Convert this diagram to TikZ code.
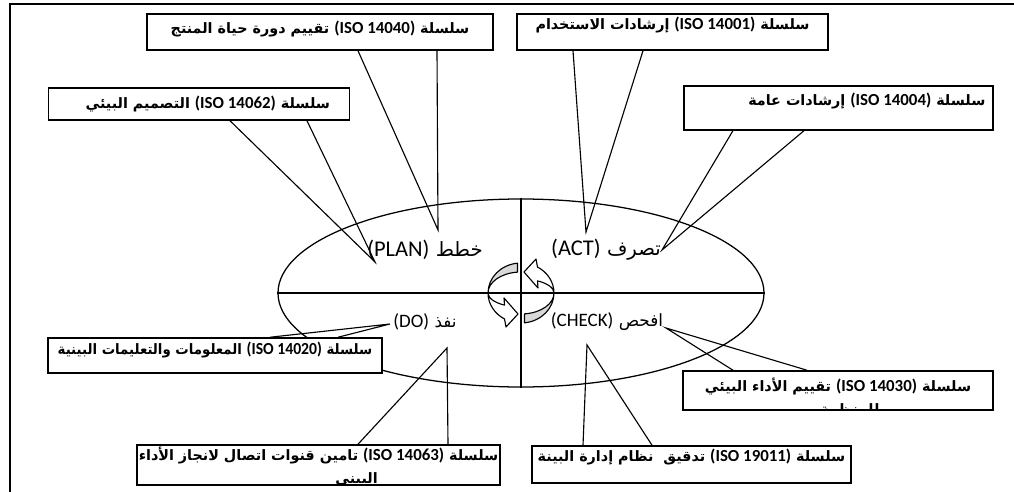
\documentclass[tikz,border=0pt]{standalone}
\usepackage{fontspec}
\newfontfamily\arabicfont[Script=Arabic]{DejaVu Sans}
\newfontfamily\latinfont{Carlito}
\TeXXeTstate=1
\usetikzlibrary{shapes.geometric,positioning,calc}

\newcommand{\iso}[1]{\beginL{\latinfont\bfseries\fontsize{12}{12}\selectfont(ISO #1)}\endL{}}

\begin{document}
\begin{tikzpicture}[
    box/.style={draw, rectangle, line width=1.1pt, fill=white, inner sep=0pt},
    boxtxt/.style={font=\arabicfont\bfseries\fontsize{10.2}{12}\selectfont, inner sep=0pt},
    phase/.style={font=\arabicfont\fontsize{14}{16}\selectfont, inner sep=0pt},
    subphase/.style={font=\arabicfont\fontsize{12}{14}\selectfont, inner sep=0pt},
    call/.style={line width=0.8pt},
    turn/.style={draw, line width=0.8pt, line join=round}
]
    \useasboundingbox (0,0) rectangle (25.35,-12.3);
    % page frame
    \draw[line width=1.4pt] (0.25,-12.3) -- (0.25,-0.1) -- (25.35,-0.1);

    % PDCA ellipse
    \node[draw, ellipse, line width=0.9pt, minimum width=12.15cm, minimum height=4.7cm, inner sep=0pt] (cyc) at (13.025,-7.325) {};
    \draw[line width=0.9pt] (cyc.west) -- (cyc.east);
    \draw[line width=0.9pt] (cyc.north) -- (cyc.south);

    % series boxes
    \node[box, minimum width=8.65cm, minimum height=0.9cm] (b1) at (8.0,-0.8) {};
    \node[box, minimum width=7.775cm, minimum height=0.9cm] (b2) at (16.8125,-0.8) {};
    \node[box, minimum width=7.525cm, minimum height=0.8cm] (b3) at (4.975,-2.6) {};
    \node[box, minimum width=7.725cm, minimum height=1.1cm] (b4) at (20.96,-2.7) {};
    \node[box, minimum width=8.35cm, minimum height=0.875cm] (b5) at (5.375,-8.8875) {};
    \node[box, minimum width=9.075cm, minimum height=1.0cm] (b6) at (7.9625,-11.625) {};
    \node[box, minimum width=7.75cm, minimum height=0.975cm] (b7) at (20.95,-9.7625) {};
    \node[box, minimum width=7.975cm, minimum height=0.925cm] (b8) at (17.2875,-11.6125) {};

    % callout tips
    \coordinate (p1) at (10.95,-5.75);
    \coordinate (p2) at (14.65,-5.8);
    \coordinate (p3) at (9.375,-6.55);
    \coordinate (p4) at (16.55,-6.25);
    \coordinate (p5) at (9.75,-8.1);
    \coordinate (p6) at (11.175,-8.7);
    \coordinate (p7) at (16.65,-8.2);
    \coordinate (p8) at (14.675,-8.625);

    \draw[call] ([xshift=0.95cm]b1.south) -- (p1) -- ([xshift=2.925cm]b1.south);
    \draw[call] ([xshift=-2.4875cm]b2.south) -- (p2) -- ([xshift=-0.7375cm]b2.south);
    \draw[call] ([xshift=0.775cm]b3.south) -- (p3) -- ([xshift=2.7cm]b3.south);
    \draw[call] ([xshift=-2.6375cm]b4.south) -- (p4) -- ([xshift=-0.8625cm]b4.south);
    \draw[call] ([xshift=1.375cm]b5.north) -- (p5) -- ([xshift=3.075cm]b5.north);
    \draw[call] ([xshift=0.9875cm]b6.north) -- (p6) -- ([xshift=3.2375cm]b6.north);
    \draw[call] ([xshift=-2.625cm]b7.north) -- (p7) -- ([xshift=-0.775cm]b7.north);
    \draw[call] ([xshift=-2.7125cm]b8.north) -- (p8) -- ([xshift=-0.9875cm]b8.north);

    % box texts
    \node[boxtxt] (t1) at ([yshift=0.08cm]b1.center) {\beginR سلسلة \iso{14040} تقييم دورة حياة المنتج\endR};
    \node[boxtxt] (t2) at ([yshift=0.18cm]b2.center) {\beginR سلسلة \iso{14001} إرشادات الاستخدام\endR};
    \node[boxtxt, anchor=east] (t3) at ([xshift=-0.5cm]b3.east) {\beginR سلسلة \iso{14062} التصميم البيئي\endR};
    \node[boxtxt, anchor=east] (t4) at ([shift={(-0.2,0.18)}]b4.east) {\beginR سلسلة \iso{14004} إرشادات عامة\endR};
    \node[boxtxt, transform shape, xscale=0.93] (t5) at ([yshift=0.13cm]b5.center) {\beginR سلسلة \iso{14020} المعلومات والتعليمات البينية\endR};
    \node[boxtxt] (t8) at ([yshift=0.19cm]b8.center) {\beginR سلسلة \iso{19011} تدقيق~ نظام إدارة البينة\endR};
    \begin{scope}
        \clip (b6.south west) rectangle (b6.north east);
        \node[boxtxt] (t6) at ([yshift=0.25cm]b6.center) {\beginR سلسلة \iso{14063} تامين قنوات اتصال لانجاز الأداء\endR};
        \node[boxtxt] (t6b) at ([shift={(0.95,-0.36)}]b6.center) {\beginR البيني\endR};
    \end{scope}
    \begin{scope}
        \clip (b7.south west) rectangle (b7.north east);
        \node[boxtxt] (t7) at ([yshift=0.11cm]b7.center) {\beginR سلسلة \iso{14030} تقييم الأداء البيئي\endR};
        \node[boxtxt] (t7b) at ([shift={(0.3,-0.46)}]b7.center) {\beginR للمنظمة\endR};
    \end{scope}

    % PDCA labels
    \node[phase] (plan) at (10.625,-6.25) {\beginR خطط \beginL{\latinfont\fontsize{16}{16}\selectfont(PLAN)}\endL\endR};
    \node[phase] (act) at (15.15,-6.25) {\beginR تصرف \beginL{\latinfont\fontsize{16}{16}\selectfont(ACT)}\endL\endR};
    \node[subphase] (do) at (10.625,-8.05) {\beginR نفذ \beginL{\latinfont\fontsize{13.5}{14}\selectfont(DO)}\endL\endR};
    \node[subphase] (check) at (15.175,-8.05) {\beginR افحص \beginL{\latinfont\fontsize{13.5}{14}\selectfont(CHECK)}\endL\endR};

    % cycle arrows
    \foreach \r in {0,180}{
        \begin{scope}[shift={(cyc.center)}, rotate=\r, x=0.025cm, y=0.025cm]
            \filldraw[turn, fill=white] (180:33 and 30) arc[start angle=180, end angle=240, x radius=33, y radius=30]
                -- (-15,-34) -- (-3,-21) -- (-17,-5) -- (240:33 and 14)
                arc[start angle=240, end angle=180, x radius=33, y radius=14] -- cycle;
            \filldraw[turn, fill=gray!30] (96:33 and 30) arc[start angle=96, end angle=180, x radius=33, y radius=30]
                arc[start angle=180, end angle=96, x radius=33, y radius=21] -- cycle;
        \end{scope}
    }
\end{tikzpicture}
\end{document}
